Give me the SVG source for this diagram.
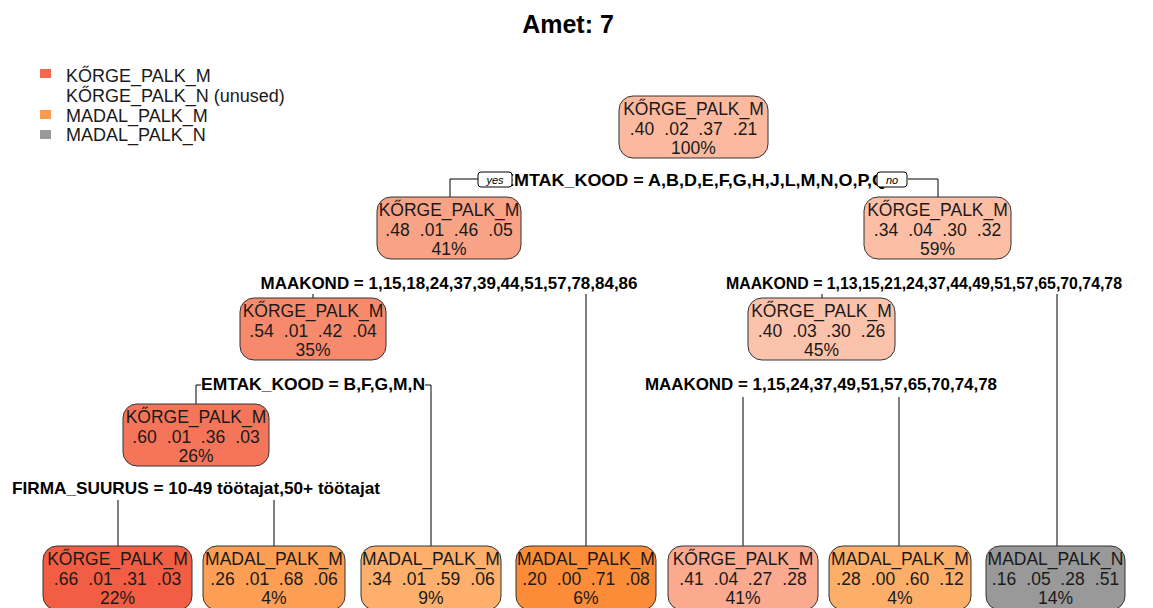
<svg xmlns="http://www.w3.org/2000/svg" width="1153" height="608" viewBox="0 0 1153 608">
<style>
.title{font-family:"Liberation Sans",Arial,sans-serif;font-weight:bold;font-size:25px;fill:#000}
.leg{font-family:"Liberation Sans",Arial,sans-serif;font-size:18px;fill:#1a1a1a}
.box{stroke:#333;stroke-width:1}
.nt{font-family:"Liberation Sans",Arial,sans-serif;font-size:17.5px;fill:#1a1a1a;text-anchor:middle}
.sp{font-family:"Liberation Sans",Arial,sans-serif;font-weight:bold;font-size:17px;fill:#000;text-anchor:middle}
.ln{stroke:#000;stroke-width:1;fill:none}
.yn{fill:#fff;stroke:#000;stroke-width:1}
.ynt{font-family:"Liberation Sans",Arial,sans-serif;font-style:italic;font-size:11px;fill:#000;text-anchor:middle}
</style>
<rect width="1153" height="608" fill="#fff"/>
<text class="title" x="568" y="33" text-anchor="middle">Amet: 7</text>
<g id="legend">
<rect x="40" y="69" width="11" height="9" fill="#F4694E"/>
<text class="leg" x="66" y="82">KŐRGE_PALK_M</text>
<text class="leg" x="66" y="102">KŐRGE_PALK_N (unused)</text>
<rect x="40" y="110" width="11" height="9" fill="#FC9A4E"/>
<text class="leg" x="66" y="122">MADAL_PALK_M</text>
<rect x="40" y="130" width="11" height="9" fill="#9A9A9A"/>
<text class="leg" x="66" y="141">MADAL_PALK_N</text>
</g>
<g id="connectors">
<path class="ln" d="M450 197V179H479M908 179H938V197"/>
<path class="ln" d="M313 294V298M586 294V546"/>
<path class="ln" d="M822 294V298M1057 294V546"/>
<path class="ln" d="M196 404V385H201M425 385H431V546"/>
<path class="ln" d="M743 397V546M899 397V546"/>
<path class="ln" d="M118 500V546M274 500V546"/>
</g>
<g id="splits">
<text class="sp" x="694" y="186" textLength="384" lengthAdjust="spacingAndGlyphs">EMTAK_KOOD = A,B,D,E,F,G,H,J,L,M,N,O,P,Q</text>
<rect class="yn" x="478" y="172" width="34" height="15" rx="3"/>
<text class="ynt" x="495" y="183.5">yes</text>
<rect class="yn" x="877" y="172" width="30" height="15" rx="3"/>
<text class="ynt" x="892" y="183.5">no</text>
<text class="sp" x="449" y="289" textLength="377" lengthAdjust="spacingAndGlyphs">MAAKOND = 1,15,18,24,37,39,44,51,57,78,84,86</text>
<text class="sp" x="924" y="289" textLength="396" lengthAdjust="spacingAndGlyphs">MAAKOND = 1,13,15,21,24,37,44,49,51,57,65,70,74,78</text>
<text class="sp" x="313" y="390" textLength="224" lengthAdjust="spacingAndGlyphs">EMTAK_KOOD = B,F,G,M,N</text>
<text class="sp" x="821" y="390" textLength="352" lengthAdjust="spacingAndGlyphs">MAAKOND = 1,15,24,37,49,51,57,65,70,74,78</text>
<text class="sp" x="196" y="494" textLength="368" lengthAdjust="spacingAndGlyphs">FIRMA_SUURUS = 10-49 töötajat,50+ töötajat</text>
</g>
<g id="n1">
<rect class="box" x="619" y="96" width="149" height="62" rx="14" fill="#FBB9A0"/>
<text class="nt" x="693.5" y="115">KŐRGE_PALK_M</text>
<text class="nt" y="135"><tspan x="642">.40</tspan><tspan x="676.5">.02</tspan><tspan x="710.5">.37</tspan><tspan x="745">.21</tspan></text>
<text class="nt" x="693.5" y="154">100%</text>
</g>
<g id="n2">
<rect class="box" x="377" y="197" width="144" height="62" rx="14" fill="#F8A286"/>
<text class="nt" x="449" y="216">KŐRGE_PALK_M</text>
<text class="nt" y="236"><tspan x="397.5">.48</tspan><tspan x="432">.01</tspan><tspan x="466">.46</tspan><tspan x="500.5">.05</tspan></text>
<text class="nt" x="449" y="255">41%</text>
</g>
<g id="n3">
<rect class="box" x="864" y="197" width="147" height="62" rx="14" fill="#FCBFA6"/>
<text class="nt" x="937.5" y="216">KŐRGE_PALK_M</text>
<text class="nt" y="236"><tspan x="886">.34</tspan><tspan x="920.5">.04</tspan><tspan x="954.5">.30</tspan><tspan x="989">.32</tspan></text>
<text class="nt" x="937.5" y="255">59%</text>
</g>
<g id="n4">
<rect class="box" x="240" y="298" width="146" height="62" rx="14" fill="#F78A6D"/>
<text class="nt" x="313" y="317">KŐRGE_PALK_M</text>
<text class="nt" y="337"><tspan x="261.5">.54</tspan><tspan x="296">.01</tspan><tspan x="330">.42</tspan><tspan x="364.5">.04</tspan></text>
<text class="nt" x="313" y="356">35%</text>
</g>
<g id="n5">
<rect class="box" x="748" y="298" width="147" height="62" rx="14" fill="#FCC3AC"/>
<text class="nt" x="821.5" y="317">KŐRGE_PALK_M</text>
<text class="nt" y="337"><tspan x="770">.40</tspan><tspan x="804.5">.03</tspan><tspan x="838.5">.30</tspan><tspan x="873">.26</tspan></text>
<text class="nt" x="821.5" y="356">45%</text>
</g>
<g id="n6">
<rect class="box" x="123" y="404" width="146" height="62" rx="14" fill="#F5755A"/>
<text class="nt" x="196" y="423">KŐRGE_PALK_M</text>
<text class="nt" y="443"><tspan x="144.5">.60</tspan><tspan x="179">.01</tspan><tspan x="213">.36</tspan><tspan x="247.5">.03</tspan></text>
<text class="nt" x="196" y="462">26%</text>
</g>
<g id="leaf1">
<rect class="box" x="43" y="546" width="149" height="64" rx="14" fill="#F35D43"/>
<text class="nt" x="117.5" y="565">KŐRGE_PALK_M</text>
<text class="nt" y="585"><tspan x="66">.66</tspan><tspan x="100.5">.01</tspan><tspan x="134.5">.31</tspan><tspan x="169">.03</tspan></text>
<text class="nt" x="117.5" y="604">22%</text>
</g>
<g id="leaf2">
<rect class="box" x="203" y="546" width="142" height="64" rx="14" fill="#FD9E55"/>
<text class="nt" x="274" y="565">MADAL_PALK_M</text>
<text class="nt" y="585"><tspan x="222.5">.26</tspan><tspan x="257">.01</tspan><tspan x="291">.68</tspan><tspan x="325.5">.06</tspan></text>
<text class="nt" x="274" y="604">4%</text>
</g>
<g id="leaf3">
<rect class="box" x="361" y="546" width="140" height="64" rx="14" fill="#FDAF6B"/>
<text class="nt" x="431" y="565">MADAL_PALK_M</text>
<text class="nt" y="585"><tspan x="379.5">.34</tspan><tspan x="414">.01</tspan><tspan x="448">.59</tspan><tspan x="482.5">.06</tspan></text>
<text class="nt" x="431" y="604">9%</text>
</g>
<g id="leaf4">
<rect class="box" x="516" y="546" width="140" height="64" rx="14" fill="#FC8C37"/>
<text class="nt" x="586" y="565">MADAL_PALK_M</text>
<text class="nt" y="585"><tspan x="534.5">.20</tspan><tspan x="569">.00</tspan><tspan x="603">.71</tspan><tspan x="637.5">.08</tspan></text>
<text class="nt" x="586" y="604">6%</text>
</g>
<g id="leaf5">
<rect class="box" x="668" y="546" width="150" height="64" rx="14" fill="#FBA98F"/>
<text class="nt" x="743" y="565">KŐRGE_PALK_M</text>
<text class="nt" y="585"><tspan x="691.5">.41</tspan><tspan x="726">.04</tspan><tspan x="760">.27</tspan><tspan x="794.5">.28</tspan></text>
<text class="nt" x="743" y="604">41%</text>
</g>
<g id="leaf6">
<rect class="box" x="829" y="546" width="142" height="64" rx="14" fill="#FDAF6A"/>
<text class="nt" x="900" y="565">MADAL_PALK_M</text>
<text class="nt" y="585"><tspan x="848.5">.28</tspan><tspan x="883">.00</tspan><tspan x="917">.60</tspan><tspan x="951.5">.12</tspan></text>
<text class="nt" x="900" y="604">4%</text>
</g>
<g id="leaf7">
<rect class="box" x="986" y="546" width="139" height="64" rx="14" fill="#999999"/>
<text class="nt" x="1055.5" y="565">MADAL_PALK_N</text>
<text class="nt" y="585"><tspan x="1004">.16</tspan><tspan x="1038.5">.05</tspan><tspan x="1072.5">.28</tspan><tspan x="1107">.51</tspan></text>
<text class="nt" x="1055.5" y="604">14%</text>
</g>
</svg>
